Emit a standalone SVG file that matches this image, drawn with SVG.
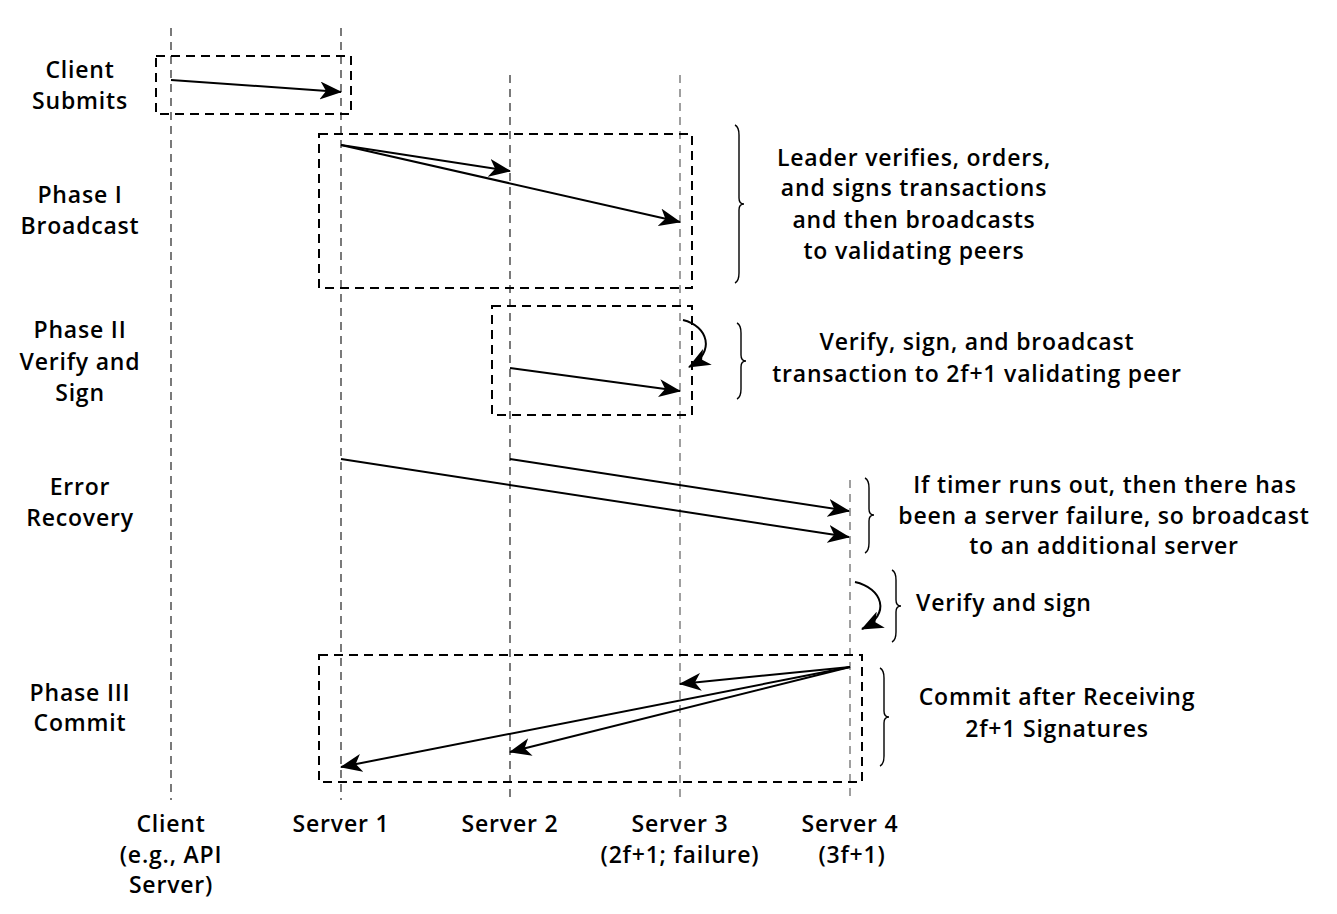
<svg xmlns="http://www.w3.org/2000/svg" width="1337" height="914" viewBox="0 0 1337 914">
<style>
text{font-family:"Open Sans","Liberation Sans",sans-serif;font-size:23px;font-weight:600;letter-spacing:0.8px;fill:#000;text-anchor:middle}
.life{stroke:#222;stroke-width:1.2;stroke-dasharray:8,6;fill:none}
.lifeg{stroke:#777;stroke-width:1.4;stroke-dasharray:8,6;fill:none}
.box{stroke:#000;stroke-width:2;stroke-dasharray:9,6;fill:none}
.msg{stroke:#000;stroke-width:2;fill:none;marker-end:url(#ah)}
.brace{stroke:#000;stroke-width:1.4;fill:none}
.l{text-anchor:start}
</style>
<defs>
<marker id="ah" markerUnits="userSpaceOnUse" markerWidth="24" markerHeight="18" refX="21" refY="9" orient="auto">
<path d="M0,0 L22,9 L0,18 L6,9 Z" fill="#000"/>
</marker>
</defs>
<rect width="1337" height="914" fill="#fff"/>
<g id="lifelines">
<line class="life" x1="171" y1="28" x2="171" y2="800"/>
<line class="life" x1="341" y1="28" x2="341" y2="800"/>
<line class="life" x1="510" y1="75" x2="510" y2="800"/>
<line class="lifeg" x1="680" y1="75" x2="680" y2="800"/>
<line class="lifeg" x1="850" y1="480" x2="850" y2="800"/>
</g>
<g id="boxes">
<rect id="box-client" class="box" x="156" y="56" width="195" height="58"/>
<rect id="box-phase1" class="box" x="319" y="134" width="373" height="154"/>
<rect id="box-phase2" class="box" x="492" y="306" width="200" height="109"/>
<rect id="box-phase3" class="box" x="319" y="655" width="543" height="127"/>
</g>
<g id="connectors">
<line class="msg" x1="171" y1="80" x2="341" y2="92"/>
<line class="msg" x1="341" y1="145" x2="510" y2="171"/>
<line class="msg" x1="341" y1="145" x2="680" y2="222"/>
<path class="msg" d="M683,320 C708,326 716,352 689,367"/>
<line class="msg" x1="510" y1="368" x2="680" y2="391"/>
<line class="msg" x1="341" y1="459" x2="849" y2="537"/>
<line class="msg" x1="510" y1="459" x2="849" y2="511"/>
<path class="msg" d="M855,582 C882,588 892,614 862,629"/>
<line class="msg" x1="850" y1="667" x2="680" y2="684"/>
<line class="msg" x1="850" y1="667" x2="510" y2="752"/>
<line class="msg" x1="850" y1="667" x2="341" y2="767"/>
</g>
<g id="braces">
<path class="brace" d="M735,125 Q739,127 739,135 L739,198 Q739,204 744,204 Q739,204 739,210 L739,273 Q739,281 735,283"/>
<path class="brace" d="M737,323 Q741,325 741,333 L741,355 Q741,361 746,361 Q741,361 741,367 L741,389 Q741,397 737,399"/>
<path class="brace" d="M865,478 Q869,480 869,488 L869,509 Q869,515 874,515 Q869,515 869,521 L869,543 Q869,551 865,553"/>
<path class="brace" d="M892,570 Q896,572 896,580 L896,600 Q896,606 901,606 Q896,606 896,612 L896,632 Q896,640 892,642"/>
<path class="brace" d="M880,668 Q884,670 884,678 L884,711 Q884,717 889,717 Q884,717 884,723 L884,756 Q884,764 880,766"/>
</g>
<g id="phase-labels">
<text x="80" y="78">Client</text>
<text x="80" y="109">Submits</text>
<text x="80" y="203">Phase I</text>
<text x="80" y="234">Broadcast</text>
<text x="80" y="338">Phase II</text>
<text x="80" y="370">Verify and</text>
<text x="80" y="401">Sign</text>
<text x="80" y="495">Error</text>
<text x="80" y="526">Recovery</text>
<text x="80" y="701">Phase III</text>
<text x="80" y="731">Commit</text>
</g>
<g id="notes">
<text x="914" y="166">Leader verifies, orders,</text>
<text x="914" y="196">and signs transactions</text>
<text x="914" y="228">and then broadcasts</text>
<text x="914" y="259">to validating peers</text>
<text x="977" y="350">Verify, sign, and broadcast</text>
<text x="977" y="382">transaction to 2f+1 validating peer</text>
<text x="1105" y="493">If timer runs out, then there has</text>
<text x="1104" y="524">been a server failure, so broadcast</text>
<text x="1104" y="554">to an additional server</text>
<text class="l" x="916" y="611">Verify and sign</text>
<text x="1057" y="705">Commit after Receiving</text>
<text x="1057" y="737">2f+1 Signatures</text>
</g>
<g id="actor-labels">
<text x="171" y="832">Client</text>
<text x="171" y="863">(e.g., API</text>
<text x="171" y="893">Server)</text>
<text x="341" y="832">Server 1</text>
<text x="510" y="832">Server 2</text>
<text x="680" y="832">Server 3</text>
<text x="680" y="863">(2f+1; failure)</text>
<text x="850" y="832">Server 4</text>
<text x="852" y="863">(3f+1)</text>
</g>
</svg>
